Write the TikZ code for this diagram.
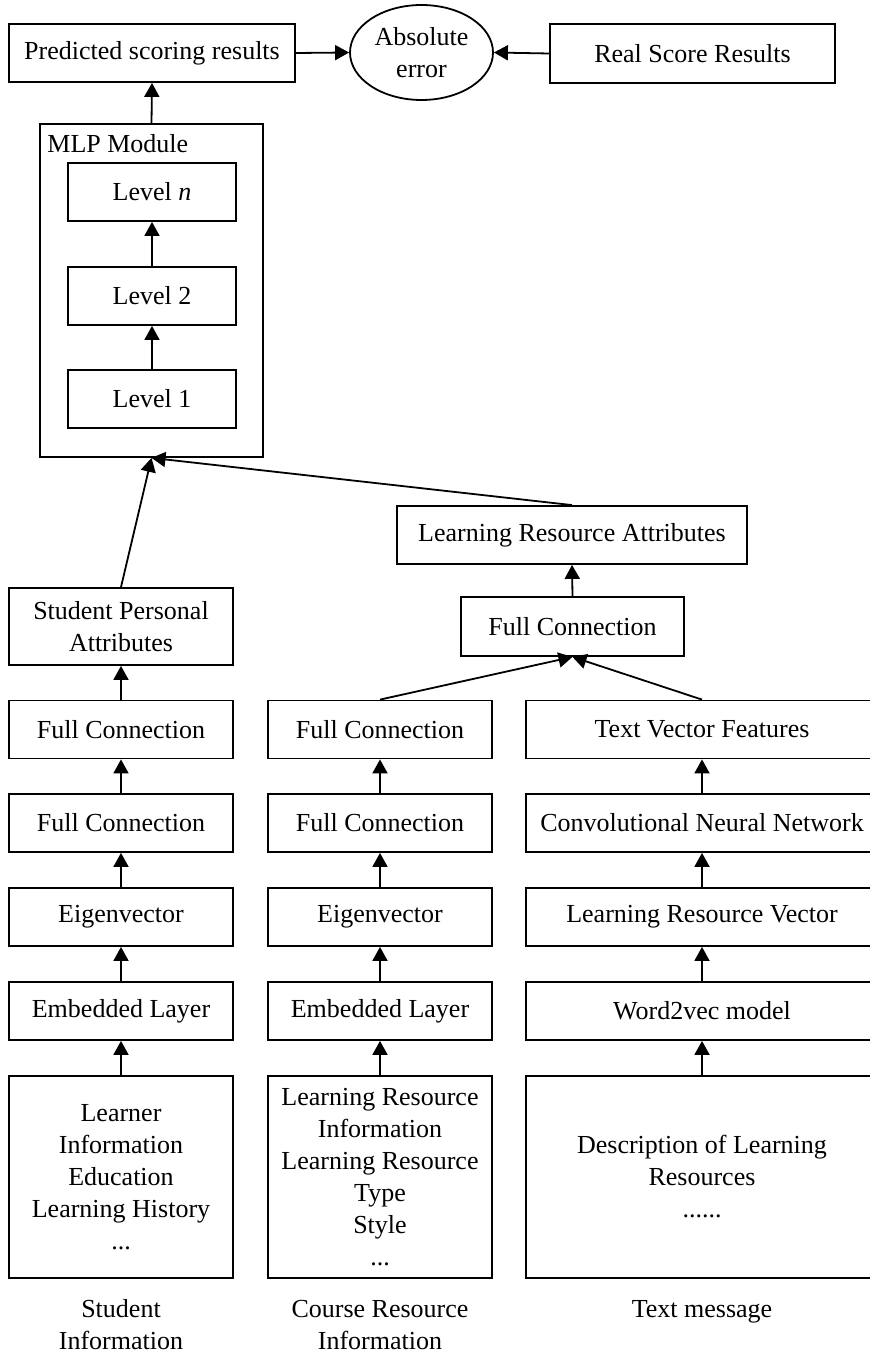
\documentclass[tikz,border=0pt]{standalone}
\usepackage{fontspec}
\setmainfont{Liberation Serif}
\usetikzlibrary{arrows.meta,shapes.geometric}
\begin{document}
\begin{tikzpicture}[x=0.5pt,y=-0.5pt,
  every node/.style={font=\fontsize{13pt}{16pt}\selectfont},
  bx/.style={draw, line width=0.9pt, inner sep=0pt, align=center},
  colbox/.style={bx, minimum width=112pt, minimum height=29pt},
  widebox/.style={bx, minimum width=176pt, minimum height=29pt},
  lvl/.style={bx, minimum width=84pt, minimum height=29pt},
  arr/.style={line width=0.9pt, -{Triangle[length=7pt,width=7.5pt]}},
  lbl/.style={inner sep=0pt, align=center}
  ]
\useasboundingbox (0,0) rectangle (870,1353);

% top row
\node[bx, minimum width=143pt, minimum height=29pt] (pred) at (152,53) {Predicted scoring results};
\node[bx, ellipse, minimum width=71.5pt, minimum height=47.5pt] (abs) at (421.5,52.5) {Absolute\\error};
\node[bx, minimum width=142.5pt, minimum height=29.5pt] (real) at (692.5,53.5) {Real Score Results};

% MLP module
\node[bx, minimum width=111.5pt, minimum height=166.5pt] (mlp) at (151.5,290.5) {};
\node[lbl, anchor=base west] (mlplbl) at (47,153) {MLP Module};
\node[lvl] (Ln) at (152,192) {Level \textit{n}};
\node[lvl] (L2) at (152,296) {Level 2};
\node[lvl] (L1) at (152,399) {Level 1};

% attributes
\node[bx, minimum width=112pt, minimum height=38.5pt] (spa) at (121,626.5) {Student Personal\\Attributes};
\node[bx, minimum width=175pt, minimum height=29pt] (lra) at (572,535) {Learning Resource Attributes};
\node[bx, minimum width=111.5pt, minimum height=29.5pt] (fcm) at (572.5,626.5) {Full Connection};

% column 1
\node[colbox] (a1) at (121,729.5) {Full Connection};
\node[colbox] (a2) at (121,823) {Full Connection};
\node[colbox] (a3) at (121,917) {Eigenvector};
\node[colbox] (a4) at (121,1011) {Embedded Layer};
\node[colbox, minimum height=101pt] (a5) at (121,1177) {Learner\\Information\\Education\\Learning History\\...};
\node[lbl] (a6) at (121,1325) {Student\\Information};

% column 2
\node[colbox] (b1) at (380,729.5) {Full Connection};
\node[colbox] (b2) at (380,823) {Full Connection};
\node[colbox] (b3) at (380,917) {Eigenvector};
\node[colbox] (b4) at (380,1011) {Embedded Layer};
\node[colbox, minimum height=101pt] (b5) at (380,1177) {Learning Resource\\Information\\Learning Resource\\Type\\Style\\...};
\node[lbl] (b6) at (380,1325) {Course Resource\\Information};

% column 3
\node[widebox] (c1) at (702,729.5) {Text Vector Features};
\node[widebox] (c2) at (702,823) {Convolutional Neural Network};
\node[widebox] (c3) at (702,917) {Learning Resource Vector};
\node[widebox] (c4) at (702,1011) {Word2vec model};
\node[widebox, minimum height=101pt] (c5) at (702,1177) {Description of Learning\\Resources\\......};
\node[lbl, anchor=base] (c6) at (702,1317) {Text message};

% connectors
\draw[arr] (mlp.north) -- (pred.south);
\draw[arr] (pred.east) -- (abs.west);
\draw[arr] (real.west) -- (abs.east);
\draw[arr] (L1.north) -- (L2.south);
\draw[arr] (L2.north) -- (Ln.south);
\draw[arr] (spa.north) -- (mlp.south);
\draw[arr] (lra.north) -- (mlp.south);
\draw[arr] (fcm.north) -- (lra.south);
\draw[arr] (b1.north) -- (fcm.south);
\draw[arr] (c1.north) -- (fcm.south);
\draw[arr] (a1.north) -- (spa.south);
\foreach \c in {a,b,c}{
  \draw[arr] (\c2.north) -- (\c1.south);
  \draw[arr] (\c3.north) -- (\c2.south);
  \draw[arr] (\c4.north) -- (\c3.south);
  \draw[arr] (\c5.north) -- (\c4.south);
}
\end{tikzpicture}
\end{document}
